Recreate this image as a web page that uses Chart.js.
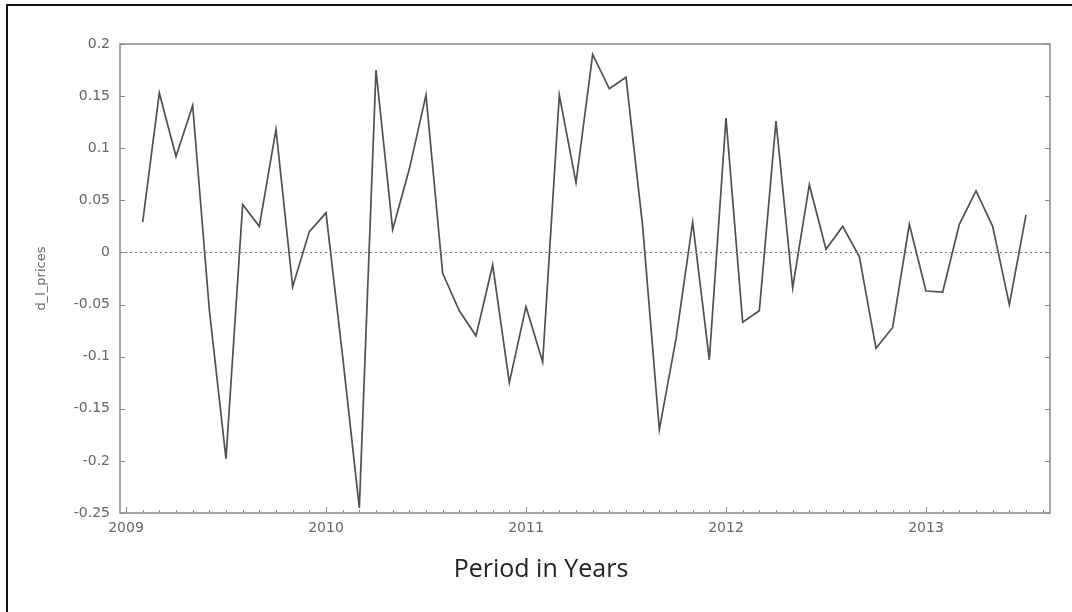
<!DOCTYPE html>
<html>
<head>
<meta charset="utf-8">
<script src="https://cdn.jsdelivr.net/npm/chart.js@4.4.1/dist/chart.umd.min.js"></script>
<style>
    html, body { margin: 0; padding: 0; background: #fff; overflow: hidden; }
    #wrap { position: relative; width: 1072px; height: 612px; overflow: hidden; }
    #frame { position: absolute; left: 6px; top: 4px; width: 1200px; height: 700px;
             border-left: 2px solid #111; border-top: 2px solid #111; }
    #dpChart { position: absolute; left: 0; top: 0; }
    #xTitle { position: absolute; left: 0; width: 1082px; top: 550px; text-align: center;
              font-family: "Open Sans", sans-serif; font-size: 25px; color: #222; }
</style>
</head>
<body>
<div id="wrap">
    <div id="frame"></div>
    <canvas id="dpChart" width="1072" height="612"></canvas>
    <div id="xTitle">Period in Years</div>
</div>
<script>
// monthly observations, 2009:02 .. 2013:07
const periods = [
    "2009:02", "2009:03", "2009:04", "2009:05", "2009:06", "2009:07", "2009:08", "2009:09", "2009:10", "2009:11", "2009:12",
    "2010:01", "2010:02", "2010:03", "2010:04", "2010:05", "2010:06", "2010:07", "2010:08", "2010:09", "2010:10", "2010:11", "2010:12",
    "2011:01", "2011:02", "2011:03", "2011:04", "2011:05", "2011:06", "2011:07", "2011:08", "2011:09", "2011:10", "2011:11", "2011:12",
    "2012:01", "2012:02", "2012:03", "2012:04", "2012:05", "2012:06", "2012:07", "2012:08", "2012:09", "2012:10", "2012:11", "2012:12",
    "2013:01", "2013:02", "2013:03", "2013:04", "2013:05", "2013:06", "2013:07"
];
const dlPrices = [
    0.029, 0.153, 0.092, 0.141, -0.055, -0.198, 0.046, 0.025, 0.118, -0.033, 0.020,
    0.038, -0.100, -0.245, 0.175, 0.022, 0.080, 0.151, -0.020, -0.056, -0.080, -0.012, -0.125,
    -0.052, -0.105, 0.151, 0.067, 0.190, 0.157, 0.168, 0.025, -0.170, -0.083, 0.029, -0.103,
    0.129, -0.067, -0.056, 0.126, -0.034, 0.065, 0.003, 0.025, -0.004, -0.092, -0.072, 0.027,
    -0.037, -0.038, 0.027, 0.059, 0.025, -0.050, 0.036
];
const yearTicks = [2009, 2010, 2011, 2012, 2013];
const yMin = -0.25, yMax = 0.2, yStep = 0.05;
const xMin = 2008.97, xMax = 2013.62;

// "2010:03" -> 2010 + 2/12
function periodToYear(p) {
    const parts = p.split(':');
    return Number(parts[0]) + (Number(parts[1]) - 1) / 12;
}

const points = periods.map((p, i) => ({ x: periodToYear(p), y: dlPrices[i] }));

// frame, inside ticks and dotted zero line, like the gretl plot
const gretlFrame = {
    id: 'gretlFrame',
    afterDatasetsDraw(chart) {
        const ctx = chart.ctx;
        const area = chart.chartArea;
        const xs = chart.scales.x, ys = chart.scales.y;
        ctx.save();
        ctx.strokeStyle = '#8a8a8a';
        ctx.lineWidth = 1.5;
        ctx.strokeRect(area.left, area.top, area.right - area.left, area.bottom - area.top);

        ctx.lineWidth = 1;
        ctx.beginPath();
        for (let v = yMin; v <= yMax + 1e-9; v += yStep) {
            const py = Math.round(ys.getPixelForValue(v)) + 0.5;
            ctx.moveTo(area.left, py); ctx.lineTo(area.left + 5, py);
            ctx.moveTo(area.right, py); ctx.lineTo(area.right - 5, py);
        }
        for (let y = 2009; y <= 2013; y++) {
            for (let m = 0; m < 12; m++) {
                const v = y + m / 12;
                if (v < xMin || v > xMax) continue;
                const px = Math.round(xs.getPixelForValue(v)) + 0.5;
                const len = m === 0 ? 6 : 3;
                ctx.moveTo(px, area.bottom); ctx.lineTo(px, area.bottom - len);
            }
        }
        ctx.stroke();

        const zy = Math.round(ys.getPixelForValue(0)) + 0.5;
        ctx.strokeStyle = '#777';
        ctx.setLineDash([2, 3]);
        ctx.beginPath();
        ctx.moveTo(area.left, zy);
        ctx.lineTo(area.right, zy);
        ctx.stroke();
        ctx.restore();
    }
};

const ctx = document.getElementById('dpChart').getContext('2d');
new Chart(ctx, {
    type: 'scatter',
    data: {
        datasets: [{
            label: 'd_l_prices',
            data: points,
            showLine: true,
            borderColor: '#505050',
            borderWidth: 1.7,
            pointRadius: 0,
            tension: 0
        }]
    },
    options: {
        responsive: false,
        animation: false,
        layout: { padding: { left: 30, right: 22, top: 44, bottom: 69 } },
        plugins: {
            legend: { display: false },
            tooltip: { enabled: false }
        },
        scales: {
            x: {
                type: 'linear',
                min: xMin,
                max: xMax,
                afterBuildTicks: scale => { scale.ticks = yearTicks.map(v => ({ value: v })); },
                afterFit: scale => { scale.height = 30; },
                grid: { display: false, drawTicks: false },
                border: { display: false },
                ticks: {
                    color: '#666',
                    padding: 7,
                    maxRotation: 0,
                    autoSkip: false,
                    font: { family: 'DejaVu Sans', size: 14 },
                    callback: v => String(v)
                }
            },
            y: {
                min: yMin,
                max: yMax,
                afterFit: scale => { scale.width = 90; },
                grid: { display: false, drawTicks: false },
                border: { display: false },
                title: {
                    display: true,
                    text: 'd_l_prices',
                    color: '#666',
                    font: { family: 'DejaVu Sans', size: 13 }
                },
                ticks: {
                    stepSize: yStep,
                    color: '#666',
                    padding: 10,
                    font: { family: 'DejaVu Sans', size: 14 },
                    callback: v => String(Math.round(v * 100) / 100)
                }
            }
        }
    },
    plugins: [gretlFrame]
});
</script>
</body>
</html>
